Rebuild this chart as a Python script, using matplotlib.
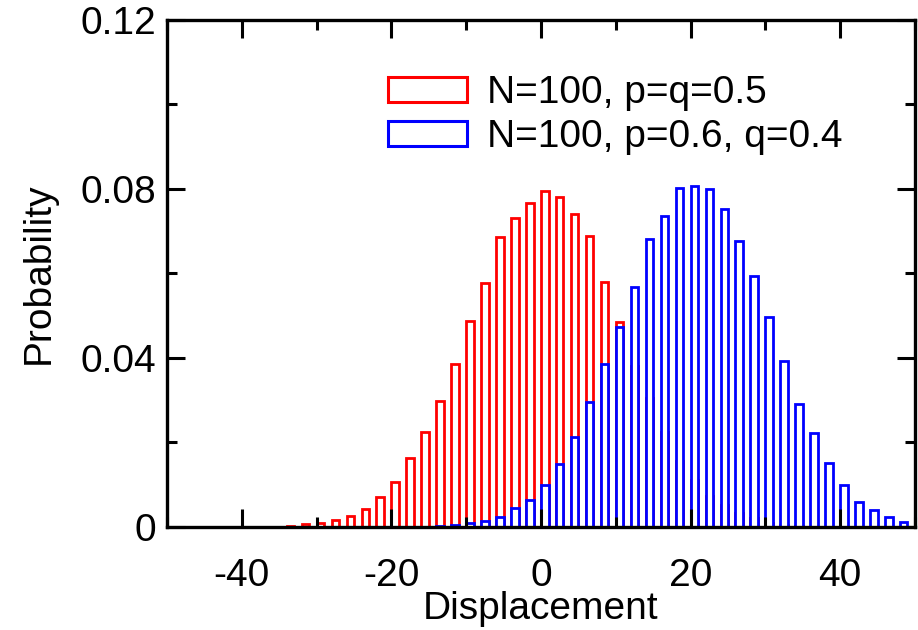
#!/usr/bin/env python3
"""
Random walk displacement histogram, N=100 steps.
"""
import matplotlib
matplotlib.use('Agg')
import matplotlib.pyplot as plt
from matplotlib.patches import Patch
from matplotlib.ticker import MultipleLocator

plt.rcParams['font.family'] = ['Liberation Sans', 'DejaVu Sans']
plt.rcParams['axes.unicode_minus'] = False

# symmetric walk, p=q=0.5
red_x = [-36, -34, -32, -30, -28, -26, -24, -22, -20, -18, -16, -14, -12, -10, -8, -6, -4, -2,
         0, 2, 4, 6, 8, 10, 12, 14, 16, 18, 20, 22, 24, 26, 28, 30, 32, 34]
red_p = [0.0001, 0.0003, 0.0006, 0.0010, 0.0016, 0.0025, 0.0043, 0.0071, 0.0107, 0.0163,
         0.0225, 0.0298, 0.0386, 0.0487, 0.0578, 0.0685, 0.0731, 0.0767,
         0.0794, 0.0781, 0.0741, 0.0688, 0.0579, 0.0484, 0.0380, 0.0306, 0.0224, 0.0157,
         0.0111, 0.0073, 0.0052, 0.0032, 0.0021, 0.0010, 0.0005, 0.0002]

# biased walk, p=0.6, q=0.4
blue_x = [-16, -14, -12, -10, -8, -6, -4, -2, 0, 2, 4, 6, 8, 10, 12, 14, 16,
          18, 20, 22, 24, 26, 28, 30, 32, 34, 36, 38, 40, 42, 44, 46, 48]
blue_p = [0.0001, 0.0003, 0.00055, 0.00095, 0.0015, 0.0024, 0.0044, 0.0065, 0.0100,
          0.0149, 0.0213, 0.0295, 0.0385, 0.0473, 0.0568, 0.0681, 0.0736,
          0.0801, 0.0808, 0.0799, 0.0753, 0.0677, 0.0594, 0.0498, 0.0392, 0.0292,
          0.0223, 0.0151, 0.0100, 0.0058, 0.0041, 0.0024, 0.0012]

labels = ['N=100, p=q=0.5', 'N=100, p=0.6, q=0.4']
x_ticks = [-40, -20, 0, 20, 40]
y_ticks = [0, 0.04, 0.08, 0.12]
y_ticklabels = ['0', '0.04', '0.08', '0.12']

fig = plt.figure(figsize=(9.18, 6.3), dpi=100)
ax = fig.add_axes([0.182, 0.1635, 0.8147, 0.805])

ax.bar(red_x, red_p, width=1, align='edge', facecolor='white',
       edgecolor='#ff0000', linewidth=2.0)
ax.bar(blue_x, blue_p, width=1, align='edge', facecolor='white',
       edgecolor='#0000ff', linewidth=2.0)

ax.set_xlim(-50, 50)
ax.set_ylim(0, 0.12)
ax.set_xticks(x_ticks)
ax.set_yticks(y_ticks)
ax.set_yticklabels(y_ticklabels)
ax.xaxis.set_minor_locator(MultipleLocator(10))
ax.yaxis.set_minor_locator(MultipleLocator(0.02))

ax.tick_params(which='both', direction='in', top=True, right=True,
               width=2.2, labelsize=28)
ax.tick_params(which='major', length=13)
ax.tick_params(which='minor', length=7)
ax.tick_params(axis='x', pad=22)
ax.tick_params(axis='y', pad=8)
for s in ax.spines.values():
    s.set_linewidth(2.4)

ax.set_xlabel('Displacement', fontsize=28, labelpad=-1.5)
ax.set_ylabel('Probability', fontsize=28, labelpad=17)

handles = [Patch(facecolor='white', edgecolor='#ff0000', linewidth=2.2),
           Patch(facecolor='white', edgecolor='#0000ff', linewidth=2.2)]
ax.legend(handles, labels, loc='upper left', bbox_to_anchor=(0.295, 0.891),
          frameon=False, fontsize=28, handlelength=2.05, handleheight=0.62,
          handletextpad=0.5, labelspacing=0.2, borderpad=0, borderaxespad=0)

plt.savefig('out.png', dpi=100)
plt.close()
